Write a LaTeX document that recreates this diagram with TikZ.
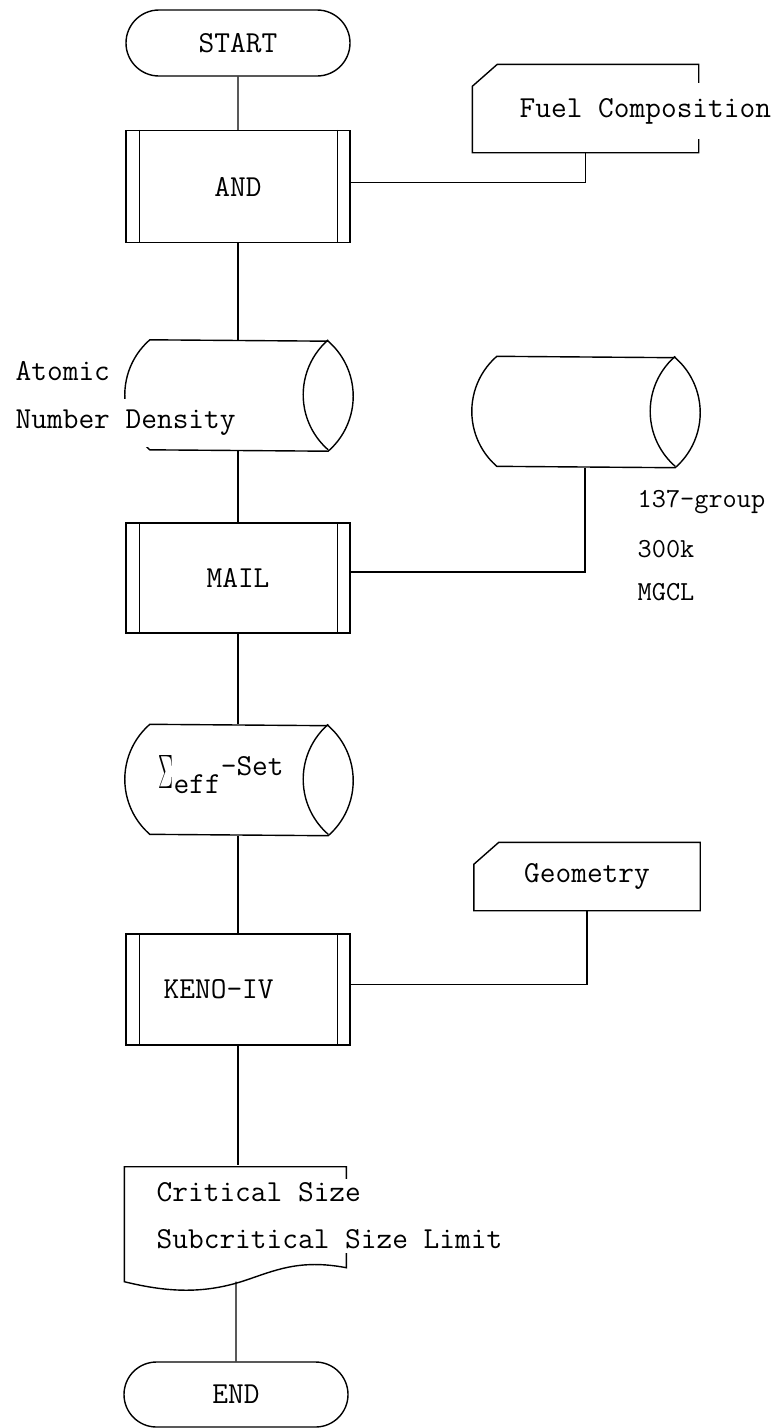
\documentclass[tikz,border=0pt]{standalone}
\usepackage{graphicx}
\usetikzlibrary{shapes.misc}

\begin{document}
\begin{tikzpicture}[
  x=1pt,
  y=1pt,
  line width=1.4pt,
  every node/.style={
    font=\fontsize{30.5}{36}\selectfont\ttfamily,
    inner sep=0pt
  },
  terminal/.style={
    rounded rectangle,
    draw,
    minimum width=224pt,
    minimum height=66pt
  },
  procbox/.style={
    draw,
    minimum width=224pt,
    minimum height=112pt
  },
  storebox/.style={
    draw=none,
    minimum width=225pt,
    minimum height=110pt
  },
  cardbox/.style={
    draw=none,
    minimum width=225pt
  },
  coverlabel/.style={
    fill=white,
    inner sep=4pt
  },
  smalllabel/.style={
    anchor=base west,
    font=\fontsize{27.5}{33}\selectfont\ttfamily
  }
]

\useasboundingbox (0,0) rectangle (777,-1428);

\newcommand{\drawbars}[1]{%
  \draw ([xshift=14pt]#1.north west) -- ([xshift=14pt]#1.south west);
  \draw ([xshift=-13pt]#1.north east) -- ([xshift=-13pt]#1.south east);
}
\newcommand{\drawstorage}[1]{%
  \draw ([xshift=25pt]#1.north west) arc[start angle=131.1, end angle=228.9, radius=73]
    -- ([xshift=-23pt]#1.south east) arc[start angle=-48.9, end angle=48.9, radius=73]
    -- cycle;
  \draw ([xshift=-23pt]#1.north east) arc[start angle=131.1, end angle=228.9, radius=73];
}
\newcommand{\drawcard}[1]{%
  \draw ([yshift=-22pt]#1.north west) -- ([xshift=25pt]#1.north west) -- (#1.north east)
    -- (#1.south east) -- (#1.south west) -- cycle;
}

% main column
\node[terminal] (start) at (238,-43) {START};
\node[procbox] (and) at (238,-186.5) {AND};
\node[storebox] (atom) at (238,-395.5) {};
\node[procbox, minimum height=110pt] (mail) at (238,-578) {MAIL};
\node[storebox] (sigma) at (238,-780) {};
\node[procbox, minimum height=111pt] (keno) at (238,-989.5) {};
\node[storebox, minimum width=222pt, minimum height=115pt] (result) at (236,-1223.5) {};
\node[terminal, minimum height=65pt] (end) at (236,-1394.5) {END};

% side inputs
\node[cardbox, minimum height=87pt] (fuel) at (585.5,-108.5) {};
\node[storebox] (lib) at (585,-412) {};
\node[cardbox, minimum height=67pt] (geo) at (587,-876.5) {Geometry};

\drawbars{and}
\drawbars{mail}
\drawbars{keno}
\drawstorage{atom}
\drawstorage{sigma}
\drawstorage{lib}
\drawcard{fuel}
\drawcard{geo}

\begin{scope}[shift={(result.south west)}]
  \draw (0,0) -- (0,115) -- (222,115) -- (222,14)
    .. controls (175,23) and (150,11) .. (120,1)
    .. controls (80,-12) and (45,-11) .. (0,0) -- cycle;
\end{scope}

\draw (start) -- (and);
\draw (and) -- (atom);
\draw (atom) -- (mail);
\draw (mail) -- (sigma);
\draw (sigma) -- (keno);
\draw (keno) -- (keno |- result.north);
\draw (result.south -| end) -- (end);

\draw ([yshift=4pt]and.east) -| (fuel.south);
\draw ([yshift=6pt]mail.east) -| (lib.south);
\draw ([yshift=5pt]keno.east) -| (geo.south);

% texts
\node[anchor=west] (kenolabel) at (163,-989.5) {KENO-IV};
\node[anchor=base west] (sigmalabel) at (158,-788)
  {\resizebox{15pt}{33pt}{$\Sigma$}\raisebox{-5pt}{eff}\raisebox{13pt}{-Set}};
\node[anchor=west] (atomic) at (15,-371) {Atomic};
\node[anchor=west, coverlabel, minimum height=48pt] (density) at (11,-423) {Number Density};
\node[anchor=west, coverlabel, minimum height=56pt] (fueltext) at (515,-111) {Fuel Composition};
\node[smalllabel] (libgroup) at (637,-507) {137-group};
\node[smalllabel] (libtemp) at (637,-557) {300k};
\node[smalllabel] (libname) at (637,-600) {MGCL};
\node[anchor=west, coverlabel, align=left, font=\fontsize{30.5}{47}\selectfont\ttfamily]
  (resulttext) at (152,-1216) {Critical Size\\Subcritical Size Limit};

\end{tikzpicture}
\end{document}
